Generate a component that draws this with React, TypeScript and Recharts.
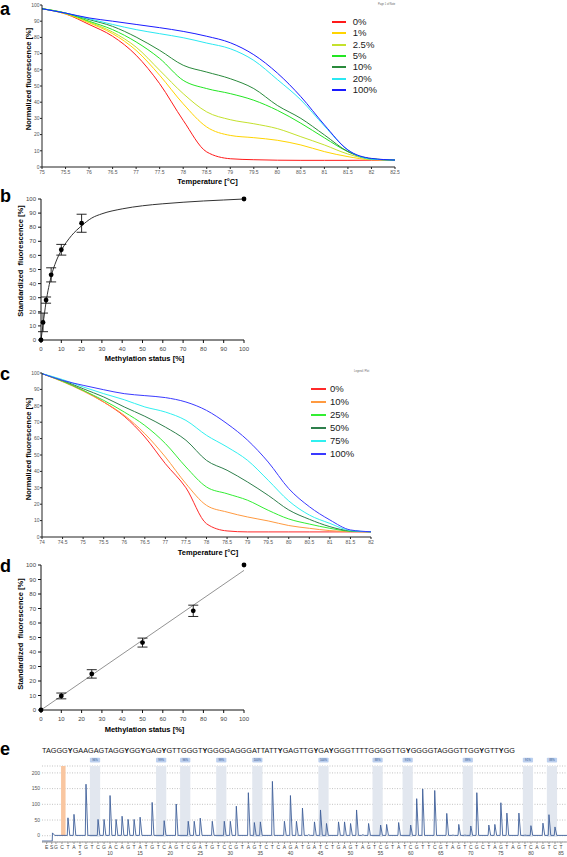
import React from 'react';
import {
  LineChart, Line, XAxis, YAxis, Legend, ComposedChart, Scatter, ErrorBar,
  CartesianGrid, ReferenceArea,
} from 'recharts';

const FONT = '"Liberation Sans", Arial, Helvetica, sans-serif';

// ---------- Panel a ----------
const tempsA = [75, 75.5, 76, 76.5, 77, 77.5, 78, 78.5, 79, 79.5, 80, 80.5, 81, 81.5, 82, 82.5];
const fluorA0 = [97.7, 94.5, 88, 80.7, 69, 51.4, 28.8, 9.3, 5.1, 4.5, 4.2, 4.1, 4.1, 4.1, 4.2, 4.3];
const fluorA1 = [97.7, 94.5, 89, 82.3, 72, 56.6, 39, 24.7, 19.5, 18.1, 16.5, 13.6, 9.5, 6.4, 4.5, 4.3];
const fluorA2_5 = [97.7, 95, 89.5, 83.3, 74, 59.7, 45.3, 34, 29.2, 26.7, 23.7, 18.7, 13.6, 8, 4.8, 4.3];
const fluorA5 = [97.7, 95, 90, 84.8, 77.2, 67, 53.5, 48.4, 45.3, 41.2, 35, 27, 18, 9.5, 5, 4.3];
const fluorA10 = [97.7, 95, 91, 86.8, 80.2, 72, 62.8, 58.6, 54.5, 48.4, 38, 30, 19.8, 9.5, 5, 4.3];
const fluorA20 = [97.7, 95, 91.5, 88, 84.8, 82.3, 79.8, 76.5, 73, 65.8, 54, 41.4, 25.3, 10.5, 4.8, 4.3];
const fluorA100 = [97.7, 95, 92, 90, 88, 86, 83.7, 80.7, 76.7, 69.3, 58, 43.4, 26, 10.5, 5.3, 4.3];
const seriesA = [
  { key: 'a0', name: '0%', color: '#ff1a1a', values: fluorA0 },
  { key: 'a1', name: '1%', color: '#ffd400', values: fluorA1 },
  { key: 'a2', name: '2.5%', color: '#c4e12c', values: fluorA2_5 },
  { key: 'a5', name: '5%', color: '#22e622', values: fluorA5 },
  { key: 'a10', name: '10%', color: '#2a8a3c', values: fluorA10 },
  { key: 'a20', name: '20%', color: '#2ae8f2', values: fluorA20 },
  { key: 'a100', name: '100%', color: '#1a1aff', values: fluorA100 },
];

// ---------- Panel c ----------
const tempsC = [74, 74.5, 75, 75.5, 76, 76.5, 77, 77.5, 78, 78.5, 79, 79.5, 80, 80.5, 81, 81.5, 82];
const fluorC0 = [99.6, 95, 89.4, 82.3, 73.6, 61, 44.7, 30, 8.1, 3.7, 3.1, 3.1, 3.1, 3.1, 3.1, 3.1, 3.1];
const fluorC10 = [99.6, 94.7, 89, 82.3, 74.2, 63, 48.8, 32.5, 19.3, 15.2, 12.2, 9.8, 7, 5.3, 3.9, 3.3, 3.2];
const fluorC25 = [99.6, 95, 89.4, 83.3, 76.2, 68, 57, 42.7, 30.5, 26.4, 22.4, 16.3, 11, 7.9, 5.3, 3.5, 3.2];
const fluorC50 = [99.6, 95.5, 90.4, 85.4, 79.3, 73.6, 67, 59, 46.7, 40.7, 33.5, 25.4, 16.5, 10.8, 6.3, 3.7, 3.2];
const fluorC75 = [99.6, 96, 91.5, 87.4, 83.7, 79.3, 76.2, 71.1, 62, 54.9, 46.7, 34.6, 22, 13.4, 8.3, 3.9, 3.2];
const fluorC100 = [99.6, 95.5, 92.5, 89.8, 87.4, 86.2, 85, 82.3, 77.2, 69.1, 59, 45.7, 29.5, 18.5, 10.4, 4.3, 3.2];
const seriesC = [
  { key: 'c0', name: '0%', color: '#ff2a2a', values: fluorC0 },
  { key: 'c10', name: '10%', color: '#ff9a40', values: fluorC10 },
  { key: 'c25', name: '25%', color: '#33ee33', values: fluorC25 },
  { key: 'c50', name: '50%', color: '#2e7f4c', values: fluorC50 },
  { key: 'c75', name: '75%', color: '#30f0f0', values: fluorC75 },
  { key: 'c100', name: '100%', color: '#3a3aff', values: fluorC100 },
];

// ---------- Panel b ----------
const methylB = [0, 1, 2.5, 5, 10, 20, 100];
const fluorB = [0, 12.5, 28.3, 46.2, 64, 82.8, 100];
const errB = [0, 6.6, 2.2, 5, 3.8, 6.4, 0];
const fitXB = [0, 1, 2.5, 5, 7.5, 10, 15, 20, 25, 30, 40, 50, 60, 70, 80, 90, 100];
const fitYB = [0, 11, 27, 45, 56, 63.5, 74, 81, 86.5, 89.5, 93, 95.2, 96.6, 97.7, 98.6, 99.3, 100];

// ---------- Panel d ----------
const methylD = [0, 10, 25, 50, 75, 100];
const fluorD = [0, 9.7, 24.9, 46.5, 68.4, 100];
const errD = [0, 2, 2.9, 3.1, 3.9, 0];
const regXD = [0, 100];
const regYD = [0, 96.3];

const pctTicks = [0, 10, 20, 30, 40, 50, 60, 70, 80, 90, 100];

// ---------- Panel e ----------
const sequenceE = 'TAGGGYGAAGAGTAGGYGGYGAGYGTTGGGTYGGGGAGGGATTATTYGAGTTGYGAYGGGTTTTGGGGTTGYGGGGTAGGGTTGGYGTTYGG';
const dispLetters = ('ES' + 'GCTATGTCGACAGTATGTCAGTCGATGTCCGTAGTCTC' + 'AGATGATCTGAGTAGTCGTATCGTTCGTAGTCGCTAGTAGTCAGTCT').split('');
const dispTicks = [-0.55, 0.3, ...Array.from({ length: 85 }, (_, i) => i + 1)];
const peakPos = [3, 4, 6, 8, 9, 10, 11, 12, 13, 14, 15, 17, 19, 21, 23, 24, 25, 27, 29, 30,
  31, 33, 34, 35, 37, 39, 40, 41, 42, 43, 44, 45, 46, 48, 49, 50, 51, 52, 53, 55,
  56, 58, 60, 61, 62, 64, 66, 67, 68, 69, 70, 71, 73, 74, 75, 76, 78, 79, 80, 82, 83, 84];
const peakHeight = [57, 68, 164, 52, 52, 128, 52, 62, 52, 52, 59, 106, 48, 101, 46, 46, 56, 46, 46, 46,
  94, 137, 42, 44, 173, 46, 128, 46, 88, 3, 44, 82, 39, 44, 44, 39, 82, 3, 39, 34,
  36, 42, 34, 118, 149, 144, 71, 2, 36, 2, 31, 137, 34, 36, 105, 72, 72, 2, 32, 40, 67, 28];
const startTrace = [
  { p: -1.32, v: -17 }, { p: 0.38, v: -17 }, { p: 0.42, v: 9 }, { p: 0.8, v: 1 },
];
const baseLevel = 1;
const cpgStart = [7, 18, 22, 28, 34, 45, 54, 59, 69, 79, 83];
const cpgLabel = ['96%', '99%', '96%', '99%', '100%', '100%', '88%', '91%', '89%', '91%', '88%'];
const yTicksE = [0, 50, 100, 150, 200];
const yDomainE = [-20, 222];

// ---------- derived tables ----------
const dataA = tempsA.map((t, i) => {
  const row: any = { t };
  seriesA.forEach((s) => { row[s.key] = s.values[i]; });
  return row;
});
const dataC = tempsC.map((t, i) => {
  const row: any = { t };
  seriesC.forEach((s) => { row[s.key] = s.values[i]; });
  return row;
});
const ptsB = methylB.map((x, i) => ({ x, y: fluorB[i], err: errB[i] }));
const fitB = fitXB.map((x, i) => ({ x, y: fitYB[i] }));
const ptsD = methylD.map((x, i) => ({ x, y: fluorD[i], err: errD[i] }));
const regD = regXD.map((x, i) => ({ x, y: regYD[i] }));
const traceE = (() => {
  const pts: { p: number; v: number }[] = [...startTrace];
  peakPos.forEach((p, i) => {
    pts.push({ p: p - 0.12, v: baseLevel }, { p, v: peakHeight[i] }, { p: p + 0.3, v: baseLevel });
  });
  pts.push({ p: 86, v: baseLevel });
  return pts;
})();

// ---------- helpers ----------
const tickSmall = { fontSize: 5, fill: '#555', fontFamily: FONT };
const tickMid = { fontSize: 6, fill: '#444', fontFamily: FONT };

const makeLegend = (order: string[], rowH: number, lineW: number, gap: number) => (props: any) => {
  const items = [...(props.payload || [])].sort(
    (a: any, b: any) => order.indexOf(String(a.dataKey)) - order.indexOf(String(b.dataKey)),
  );
  return (
    <div style={{ fontFamily: FONT }}>
      {items.map((e: any) => (
        <div key={e.value} style={{ display: 'flex', alignItems: 'center', height: rowH }}>
          <div style={{ width: lineW, height: 2, background: e.color, marginRight: gap }} />
          <span style={{ fontSize: 9.5, color: '#1a1a1a', lineHeight: '10px' }}>{e.value}</span>
        </div>
      ))}
    </div>
  );
};

const dotShape = (props: any) => <circle cx={props.cx} cy={props.cy} r={2.4} fill="#000" />;

const PctBox = (props: any) => {
  const vb = props.viewBox;
  if (!vb) return null;
  return (
    <g>
      <rect x={vb.x} y={vb.y - 8.3} width={vb.width} height={4.8} rx={0.8} fill="#bccfee" />
      <text x={vb.x + vb.width / 2} y={vb.y - 4.8} textAnchor="middle" fontSize={2.8} fill="#2d4f86" fontFamily={FONT}>
        {props.text}
      </text>
    </g>
  );
};

const DispTick = (props: any) => {
  const { x, y, index } = props;
  const p = dispTicks[index];
  return (
    <g>
      <text x={x} y={y + 4.8} textAnchor="middle" fontSize={5} fill="#444" fontFamily={FONT}>{dispLetters[index]}</text>
      {p > 0 && p % 5 === 0 ? (
        <text x={x} y={y + 11.2} textAnchor="middle" fontSize={5} fill="#444" fontFamily={FONT}>{p}</text>
      ) : null}
    </g>
  );
};

const titleStyle: React.CSSProperties = { fontFamily: FONT, fontWeight: 'bold', fontSize: 7.5, fill: '#000', whiteSpace: 'pre' };
const letterStyle: React.CSSProperties = { fontFamily: FONT, fontWeight: 'bold', fontSize: 18, fill: '#000' };

const orderA = seriesA.map((s) => s.key);
const orderC = seriesC.map((s) => s.key);

export default function App() {
  return (
    <div style={{ position: 'absolute', left: 0, top: 0, width: 567, height: 857, background: '#fff', overflow: 'hidden', fontFamily: FONT }}>
      {/* Panel a */}
      <div style={{ position: 'absolute', left: 0, top: 0 }}>
        <LineChart width={400} height={190} data={dataA} margin={{ top: 5, right: 5, bottom: 0, left: 0 }}>
          <XAxis dataKey="t" type="number" domain={[75, 82.5]} ticks={tempsA} interval={0} height={23}
            tick={tickSmall} tickSize={2} tickMargin={1.5} stroke="#222" />
          <YAxis type="number" domain={[0, 100]} ticks={pctTicks} interval={0} width={42}
            tick={tickSmall} tickSize={2} tickMargin={0.5} stroke="#222" />
          {seriesA.map((s) => (
            <Line key={s.key} dataKey={s.key} name={s.name} stroke={s.color} strokeWidth={1} dot={false}
              type="monotone" isAnimationActive={false} />
          ))}
          <Legend layout="vertical" align="center" verticalAlign="middle"
            itemSorter={(item: any) => orderA.indexOf(String(item.dataKey))}
            content={makeLegend(orderA, 11.33, 14.3, 6.7)}
            wrapperStyle={{ left: 331.7, top: 16.3, width: 'auto' }} />
        </LineChart>
      </div>

      {/* Panel b */}
      <div style={{ position: 'absolute', left: 0, top: 185 }}>
        <ComposedChart width={256} height={180} margin={{ top: 14, right: 12, bottom: 0, left: 0 }}>
          <XAxis dataKey="x" type="number" domain={[0, 100]} ticks={pctTicks} interval={0} height={25}
            tick={tickMid} tickSize={3} tickMargin={3.5} stroke="#111" />
          <YAxis type="number" domain={[0, 100]} ticks={pctTicks} interval={0} width={41}
            tick={tickMid} tickSize={3} tickMargin={2} stroke="#111" />
          <Line data={fitB} dataKey="y" stroke="#333" strokeWidth={1} dot={false} type="monotone" isAnimationActive={false} />
          <Scatter data={ptsB} dataKey="y" fill="#000" shape={dotShape} isAnimationActive={false}>
            <ErrorBar dataKey="err" direction="y" width={5} stroke="#111" strokeWidth={0.9} />
          </Scatter>
        </ComposedChart>
      </div>

      {/* Panel c */}
      <div style={{ position: 'absolute', left: 0, top: 360 }}>
        <LineChart width={380} height={200} data={dataC} margin={{ top: 13, right: 9, bottom: 0, left: 0 }}>
          <XAxis dataKey="t" type="number" domain={[74, 82]} ticks={tempsC} interval={0} height={23}
            tick={tickSmall} tickSize={2} tickMargin={1.5} stroke="#222" />
          <YAxis type="number" domain={[0, 100]} ticks={pctTicks} interval={0} width={42}
            tick={tickSmall} tickSize={2} tickMargin={0.5} stroke="#222" />
          {seriesC.map((s) => (
            <Line key={s.key} dataKey={s.key} name={s.name} stroke={s.color} strokeWidth={1} dot={false}
              type="monotone" isAnimationActive={false} />
          ))}
          <Legend layout="vertical" align="center" verticalAlign="middle"
            itemSorter={(item: any) => orderC.indexOf(String(item.dataKey))}
            content={makeLegend(orderC, 13, 15.3, 4)}
            wrapperStyle={{ left: 310.7, top: 22.8, width: 'auto' }} />
        </LineChart>
      </div>

      {/* Panel d */}
      <div style={{ position: 'absolute', left: 0, top: 552 }}>
        <ComposedChart width={256} height={183} margin={{ top: 13, right: 12, bottom: 0, left: 0 }}>
          <XAxis dataKey="x" type="number" domain={[0, 100]} ticks={pctTicks} interval={0} height={25}
            tick={tickMid} tickSize={3} tickMargin={3.5} stroke="#111" />
          <YAxis type="number" domain={[0, 100]} ticks={pctTicks} interval={0} width={41}
            tick={tickMid} tickSize={3} tickMargin={2} stroke="#111" />
          <Line data={regD} dataKey="y" stroke="#777" strokeWidth={0.8} dot={false} type="linear" isAnimationActive={false} />
          <Scatter data={ptsD} dataKey="y" fill="#000" shape={dotShape} isAnimationActive={false}>
            <ErrorBar dataKey="err" direction="y" width={5} stroke="#111" strokeWidth={0.9} />
          </Scatter>
        </ComposedChart>
      </div>

      {/* Panel e */}
      <div style={{ position: 'absolute', left: 0, top: 741 }}>
        <ComposedChart width={567} height={116} margin={{ top: 25, right: 0, bottom: 0, left: 0 }}>
          <CartesianGrid vertical={false} stroke="#9a9a9a" strokeDasharray="1 1.5" strokeWidth={0.6} />
          <XAxis dataKey="p" type="number" domain={[-1.32, 86]} allowDataOverflow ticks={dispTicks} interval={0}
            height={15} tick={<DispTick />} tickSize={2} tickMargin={0} stroke="#999" />
          <YAxis type="number" domain={yDomainE} allowDataOverflow ticks={yTicksE} interval={0} width={42}
            tick={tickSmall} tickSize={0} tickMargin={2} axisLine={false} tickLine={false} />
          <ReferenceArea x1={1.85} x2={2.6} y1={0} y2={yDomainE[1]} fill="#f9c6a0" fillOpacity={1} stroke="none" />
          {cpgStart.map((t, i) => (
            <ReferenceArea key={t} x1={t - 0.35} x2={t + 1.35} y1={-4} y2={yDomainE[1]} fill="#e2e7ef" fillOpacity={1} stroke="none"
              label={<PctBox text={cpgLabel[i]} />} />
          ))}
          <Line data={traceE} dataKey="v" stroke="#3f609a" strokeWidth={0.9} dot={false} type="linear" isAnimationActive={false} />
        </ComposedChart>
      </div>

      {/* Titles, panel letters, sequence */}
      <svg width={567} height={857} style={{ position: 'absolute', left: 0, top: 0, pointerEvents: 'none' }}>
        <text x={0} y={14.5} style={letterStyle}>a</text>
        <text x={0} y={202} style={letterStyle}>b</text>
        <text x={0} y={379.5} style={letterStyle}>c</text>
        <text x={0} y={571.7} style={letterStyle}>d</text>
        <text x={0} y={755} style={letterStyle}>e</text>

        <text x={378} y={5} fontSize={2.6} fill="#666" fontFamily={FONT}>Page 1 of Note</text>
        <text x={354} y={372} fontSize={2.6} fill="#666" fontFamily={FONT}>Legend / Plot</text>

        <text transform="translate(28.3,79) rotate(-90)" textAnchor="middle" dominantBaseline="central" style={titleStyle}>Normalized fluorescence [%]</text>
        <text x={207.5} y={181} textAnchor="middle" dominantBaseline="central" style={titleStyle}>Temperature [°C]</text>

        <text transform="translate(20,261) rotate(-90)" textAnchor="middle" dominantBaseline="central" style={titleStyle}>Standardized  fluorescence [%]</text>
        <text x={144.5} y={358.5} textAnchor="middle" dominantBaseline="central" style={titleStyle}>Methylation status [%]</text>

        <text transform="translate(28.3,449) rotate(-90)" textAnchor="middle" dominantBaseline="central" style={titleStyle}>Normalized fluorescence [%]</text>
        <text x={208} y={552} textAnchor="middle" dominantBaseline="central" style={titleStyle}>Temperature [°C]</text>

        <text transform="translate(20,634) rotate(-90)" textAnchor="middle" dominantBaseline="central" style={titleStyle}>Standardized  fluorescence [%]</text>
        <text x={144.5} y={729} textAnchor="middle" dominantBaseline="central" style={titleStyle}>Methylation status [%]</text>

        <text x={42} y={752.5} fontSize={7} fill="#111" fontFamily={FONT} textLength={473} lengthAdjust="spacingAndGlyphs">
          {sequenceE.split('').map((ch, i) => (
            <tspan key={i} fontWeight={ch === 'Y' ? 'bold' : 'normal'}>{ch}</tspan>
          ))}
        </text>
      </svg>
    </div>
  );
}
